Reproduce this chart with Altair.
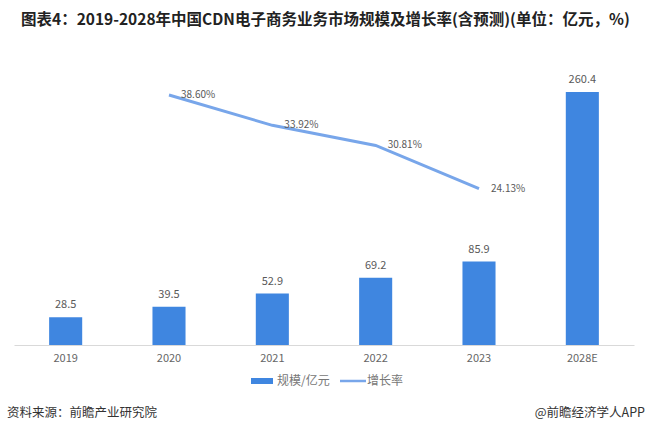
import altair as alt
import pandas as pd

years = ["2019", "2020", "2021", "2022", "2023", "2028E"]
scale_values = [28.5, 39.5, 52.9, 69.2, 85.9, 260.4]
growth_years = ["2020", "2021", "2022", "2023"]
growth_values = [38.60, 33.92, 30.81, 24.13]

FONT = "Noto Sans CJK SC"
BAR_COLOR = "#3f86e0"
LINE_COLOR = "#78a6ea"

bars_df = pd.DataFrame({"year": years, "value": scale_values})
bars_df["label"] = [f"{v:.1f}" for v in scale_values]
line_df = pd.DataFrame({"year": growth_years, "rate": growth_values})
line_df["label"] = [f"{v:.2f}%" for v in growth_values]

OX, OY = 14, 73
W, H = 620, 272

xscale = alt.Scale(paddingInner=0.68, paddingOuter=0.34)
xenc = alt.X("year:N", sort=years, title=None, scale=xscale,
             axis=alt.Axis(labelAngle=0, ticks=False, domainColor="#d9d9d9",
                           labelColor="#666666", labelFont=FONT, labelFontSize=11,
                           labelPadding=7))
xplain = alt.X("year:N", sort=years, scale=xscale)

yb = alt.Y("value:Q", scale=alt.Scale(domain=[0, 280]), axis=None)
yl = alt.Y("rate:Q", scale=alt.Scale(domain=[0, 42]), axis=None)

bars = alt.Chart(bars_df).mark_bar(color=BAR_COLOR).encode(x=xenc, y=yb)
bar_text = alt.Chart(bars_df).mark_text(
    dy=-12, baseline="middle", font=FONT, fontSize=11, color="#595959"
).encode(x=xplain, y=yb, text="label:N")

line = alt.Chart(line_df).mark_line(color=LINE_COLOR, strokeWidth=3).encode(x=xplain, y=yl)
line_text = alt.Chart(line_df).mark_text(
    align="left", dx=12, dy=0, baseline="middle", font=FONT, fontSize=10, color="#595959"
).encode(x=xplain, y=yl, text="label:N")

bar_layer = alt.layer(bars, bar_text)
line_layer = alt.layer(line, line_text)


def txt(s, x, y, size=12, color="#333333", weight="normal", align="left"):
    return alt.Chart(pd.DataFrame({"t": [s]})).mark_text(
        align=align, baseline="middle", font=FONT, fontSize=size, color=color,
        fontWeight=weight
    ).encode(x=alt.value(x), y=alt.value(y), text="t:N")


title = txt("图表4：2019-2028年中国CDN电子商务业务市场规模及增长率(含预测)(单位：亿元，%)",
            21 - OX, 20 - OY, size=15.5, color="#222222", weight="bold")
source = txt("资料来源：前瞻产业研究院", 7 - OX, 413 - OY, size=12.5, color="#333333")
brand = txt("@前瞻经济学人APP", 645 - OX, 413 - OY, size=12.5, color="#333333", align="right")

leg_bar = alt.Chart(pd.DataFrame({"a": [0]})).mark_rect(color=BAR_COLOR).encode(
    x=alt.value(251 - OX), x2=alt.value(273 - OX), y=alt.value(378 - OY), y2=alt.value(384 - OY))
leg_bar_t = txt("规模/亿元", 277 - OX, 381 - OY, size=12, color="#777777")
leg_line = alt.Chart(pd.DataFrame({"a": [0]})).mark_rule(color=LINE_COLOR, strokeWidth=2.5).encode(
    x=alt.value(340 - OX), x2=alt.value(366 - OX), y=alt.value(381 - OY))
leg_line_t = txt("增长率", 367 - OX, 381 - OY, size=12, color="#777777")

chart = alt.layer(
    bar_layer, line_layer, title, source, brand, leg_bar, leg_bar_t, leg_line, leg_line_t
).resolve_scale(y="independent").properties(
    width=W, height=H,
    autosize=alt.AutoSizeParams(type="none"),
    padding={"left": OX, "top": OY, "right": 648 - OX - W, "bottom": 436 - OY - H},
).configure(background="white").configure_view(stroke=None)

chart.save("out.html", embed_options={"renderer": "svg", "actions": False})
